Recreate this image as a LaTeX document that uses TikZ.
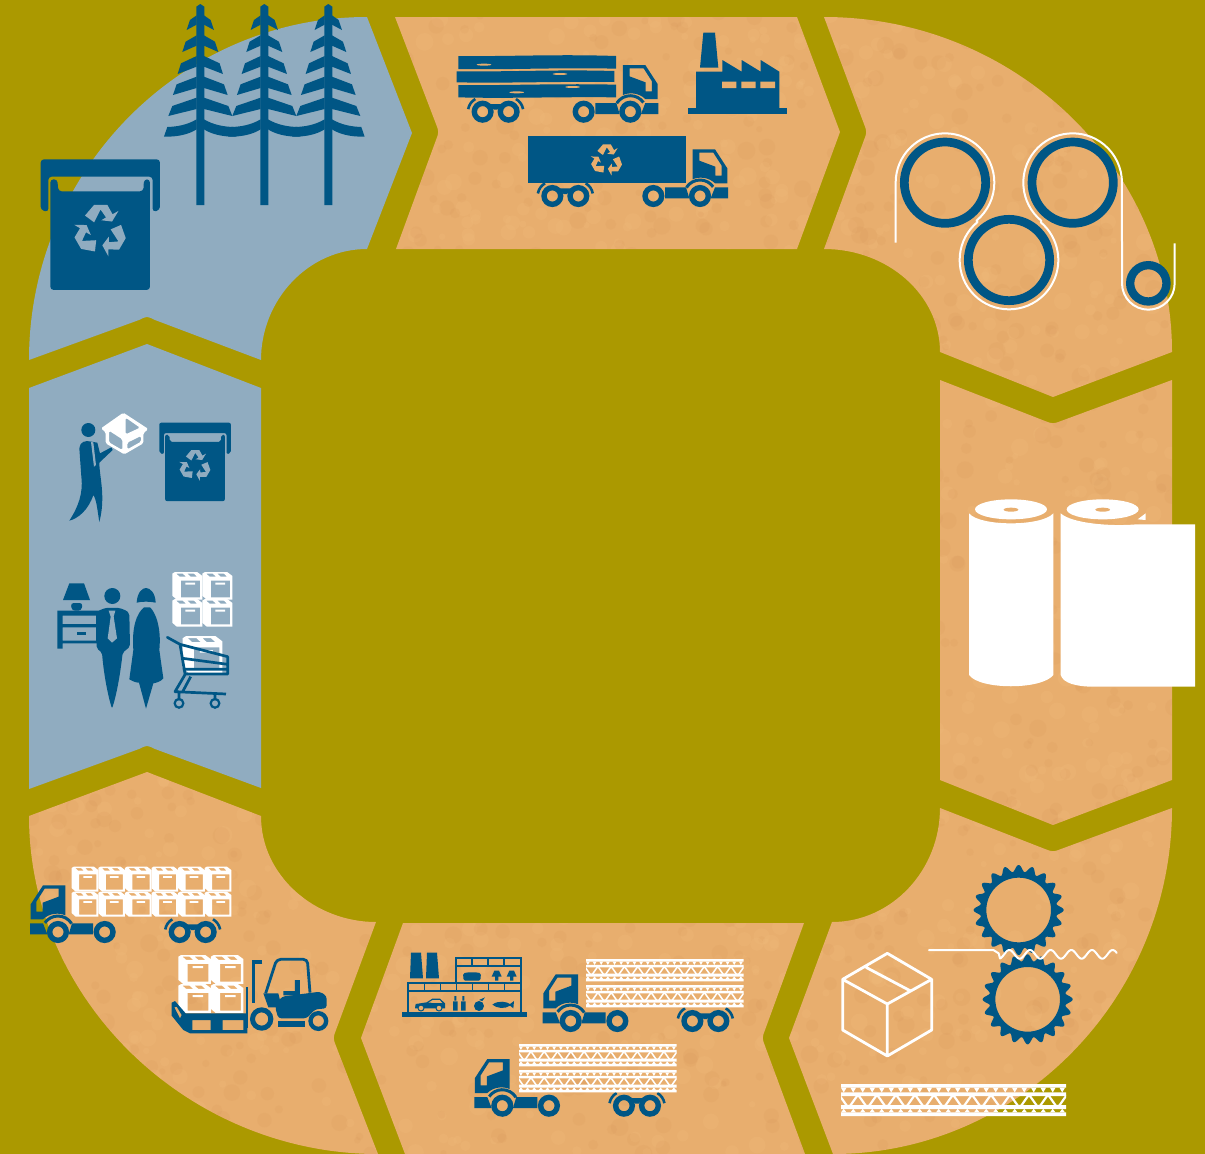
\documentclass[tikz,border=0pt]{standalone}
\definecolor{oliv}{RGB}{171,153,0}
\definecolor{blueD}{RGB}{0,86,133}
\definecolor{blueS}{RGB}{144,172,192}
\definecolor{kraft}{RGB}{232,174,110}
\definecolor{kraftD}{RGB}{212,146,86}
\definecolor{kraftL}{RGB}{248,200,136}
\newcommand\segTopMid{(395,17) -- (797,17) -- (840,132) -- (797,249) -- (396,249) -- (436,140) .. controls (439,132) .. (436,124) -- cycle}
\newcommand\segTopRight{(824,17) .. controls (1015,17) and (1172,168) .. (1172,352) -- (1053,397) -- (940,352) .. controls (940,295) and (888,249) .. (824,249) -- (864,140) .. controls (867,132) .. (864,124) -- cycle}
\newcommand\segMidRight{(940,380) -- (1045,421) .. controls (1053,424) .. (1061,421) -- (1172,380) -- (1172,780) -- (1053,825) -- (940,780) -- cycle}
\newcommand\segBotRight{(940,808) -- (1045,849) .. controls (1053,852) .. (1061,849) -- (1172,808) .. controls (1172,998) and (1019,1154) .. (833,1154) -- (789,1038) -- (832,922) .. controls (892,922) and (940,870) .. (940,808) -- cycle}
\newcommand\segBotMid{(403,923) -- (804,923) -- (765,1030) .. controls (762,1038) .. (765,1046) -- (805,1154) -- (405,1154) -- (361,1038) -- cycle}
\newcommand\segBotLeft{(147,772) -- (261,816) .. controls (261,876) and (315,922) .. (376,922) -- (336,1030) .. controls (333,1038) .. (336,1046) -- (378,1154) .. controls (190,1154) and (29,1002) .. (29,816) -- cycle}
\newcommand\recycle[4]{\begin{scope}[shift={(#1,#2)},scale=#3]\foreach \a in {0,120,240}{\fill[#4,rotate=\a] (-.59,-.58) -- (-.24,-.99) -- (.27,-.99) -- (.47,-.63) -- (.7,-.76) -- (.45,-.35) -- (.04,-.4) -- (.22,-.51) -- (.01,-.81) -- (-.24,-.32) -- cycle;}\end{scope}}
\newcommand\wheelring[2]{\draw[blueD,line width=5.4pt] (#1,#2) circle[radius=25];}
% truck: #1,#2 front wheel centre, #3 = 1 faces right, -1 faces left
\newcommand\truck[3]{\begin{scope}[shift={(#1,#2)},xscale=#3/3,yscale=1/3,shift={(-780,-528)}]
\fill[blueD,even odd rule] (758,388) -- (825,388) -- (862,445) -- (862,490) -- (825,490) .. controls (805,470) and (775,470) .. (758,478) -- cycle (778,398) -- (820,398) -- (845,437) -- (845,467) -- (826,467) -- (826,440) -- (778,422) -- cycle;
\draw[blueD,line width=3pt] (780,528) ++(212:48) arc[start angle=212,end angle=325,radius=48];
\fill[blueD] (675,502) -- (738,502) -- (748,535) -- (675,535) -- cycle (825,502) -- (864,502) -- (864,535) -- (812,535) -- cycle;
\wheelring{780}{528}\wheelring{640}{528}\wheelring{415}{528}\wheelring{337}{528}
\draw[blueD,line width=2.6pt] (337,528) ++(190:44) arc[start angle=190,end angle=240,radius=44];
\draw[blueD,line width=2.6pt] (415,528) ++(300:44) arc[start angle=300,end angle=350,radius=44];
\fill[blueD] (356,505) -- (396,505) -- (381,522) -- (371,522) -- cycle;
\end{scope}}
\newcommand\wbox[4]{\begin{scope}[shift={(#1,#2)},xscale=#3,yscale=#4]
\fill[white,even odd rule] (0,5) -- (8,0) -- (76,0) -- (92,12) -- (92,84) -- (14,84) -- (0,72) -- cycle (26,26) -- (85,26) -- (85,77) -- (26,77) -- cycle (12,5) -- (32,5) -- (42,14) -- (22,14) -- cycle (46,5) -- (66,5) -- (76,14) -- (56,14) -- cycle (40,32) -- (70,32) -- (70,38) -- (40,38) -- cycle;
\end{scope}}
\newcommand\corr[3]{\begin{scope}[shift={(#1,#2)},scale=#3]
\begin{scope}
\clip (0,0) rectangle (225,32);
\fill[white] (0,0) rectangle (225,3.7) (0,8.3) rectangle (225,12) (0,21) rectangle (225,25) (0,28.3) rectangle (225,32);
\foreach \i in {0,...,12}{\draw[white,line width=#3*2.2pt,line join=round] (\i*19-1,12) -- (\i*19+6,22) -- (\i*19+9,22) -- (\i*19+16,12) -- (\i*19+18,12);}
\foreach \i in {0,...,24}{\fill[white] (\i*9.5,3.7) -- (\i*9.5+5.5,3.7) -- (\i*9.5+2.7,8.5) -- cycle (\i*9.5,28.4) -- (\i*9.5+5.5,28.4) -- (\i*9.5+2.7,24.8) -- cycle;}
\end{scope}\end{scope}}
\newcommand\tier[6]{% branch pair: tip lower x,y; tip upper x,y; trunk upper y, trunk lower y
\foreach \sx in {1,-1}{\begin{scope}[xscale=\sx]
\fill[blueD] (#1,#2) .. controls ({(#1-11)/2},{(#2+#6)/2+2}) .. (-11,#6) -- (-11,#5) .. controls ({(#3-11)/2},{(#4+#5)/2+2}) .. (#3,#4) -- cycle;
\end{scope}}}
\newcommand\tree[1]{\begin{scope}[shift={(#1,0)},scale=1/3]
\fill[blueD] (-12,615) -- (-12,20) -- (0,12) -- (12,20) -- (12,615) -- cycle;
\tier{-41}{90}{-31}{60}{46}{74}
\tier{-54}{156}{-44}{125}{106}{137}
\tier{-68}{222}{-58}{190}{168}{200}
\tier{-82}{285}{-71}{253}{230}{264}
\tier{-96}{348}{-84}{318}{293}{327}
\foreach \sx in {1,-1}{\begin{scope}[xscale=\sx]
\fill[blueD] (-109,410) .. controls (-60,411) and (-30,400) .. (-11,388) -- (-11,358) .. controls (-40,375) and (-70,380) .. (-99,381) -- cycle;
\end{scope}}
\end{scope}}
\newcommand\bin[3]{\begin{scope}[shift={(#1,#2)},scale=#3]
\fill[blueD,rounded corners=#3*10pt] (62,478) -- (420,478) -- (420,630) -- (398,636) -- (398,530) -- (85,530) -- (85,636) -- (62,630) -- cycle;
\fill[blueD,rounded corners=#3*10pt] (91,870) -- (91,538) -- (112,538) -- (115,574) -- (370,574) -- (372,538) -- (390,538) -- (390,870) -- cycle;
\recycle{241}{692}{78}{blueS}
\end{scope}}
\newcommand\gear[2]{\fill[blueD,even odd rule] plot[domain=0:360,samples=361,variable=\t] ({#1+(125+10*cos(20*\t))*cos(\t)},{#2+(125+10*cos(20*\t))*sin(\t)}) -- cycle (#1,#2) circle[radius=97];}
\begin{document}
\begin{tikzpicture}[x=1pt,y=1pt,yscale=-1]
\useasboundingbox (0,0) rectangle (1205,1154);
\fill[oliv] (0,0) rectangle (1205,1154);
% kraft segments with mottled texture
\begin{scope}
\clip \segTopMid \segTopRight \segMidRight \segBotRight \segBotMid \segBotLeft;
\fill[kraft] (0,0) rectangle (1205,1154);
\pgfmathsetseed{11}
\begin{scope}[fill opacity=.13]
\foreach \i in {1,...,3000}{
\pgfmathsetmacro\px{rnd*1205}\pgfmathsetmacro\py{rnd*1154}\pgfmathsetmacro\pr{3+rnd*6}
\ifodd\i \fill[kraftD] (\px,\py) circle[radius=\pr];
\else \fill[kraftL] (\px,\py) circle[radius=\pr];\fi}
\end{scope}
\end{scope}
% blue segments
\fill[blueS] (367,17) -- (412,133) -- (367,249) .. controls (308,249) and (261,300) .. (261,360) -- (155,320) .. controls (147,316) .. (139,320) -- (29,360) .. controls (29,171) and (181,17) .. (367,17) -- cycle;
\fill[blueS] (147,344) -- (261,388) -- (261,788) -- (155,749) .. controls (147,745) .. (139,749) -- (29,789) -- (29,388) -- cycle;
% trees and bin top left
\tree{200.3}\tree{264.3}\tree{328.3}
\bin{20}{0}{.3333}
% top middle
\begin{scope}[shift={(440,20)},scale=1/3]
\fill[blueD] (55,108) .. controls (200,110) and (350,102) .. (528,108) -- (528,146) .. controls (350,142) and (200,150) .. (55,147) -- cycle;
\fill[blueD] (50,154) .. controls (200,156) and (350,148) .. (523,153) -- (523,186) .. controls (350,184) and (200,190) .. (50,187) -- cycle;
\fill[blueD] (55,195) .. controls (200,197) and (350,190) .. (528,194) -- (528,232) .. controls (350,230) and (200,236) .. (55,232) -- cycle;
\fill[kraft] (132,134) ellipse[x radius=22,y radius=3] (360,162) ellipse[x radius=22,y radius=3] (230,217) ellipse[x radius=22,y radius=3] (398,201) ellipse[x radius=22,y radius=3];
\fill[blueD] (745,263) rectangle (1040,282);
\fill[blueD] (768,265) -- (768,155) -- (847,155) -- (847,120) -- (905,155) -- (905,120) -- (962,155) -- (962,120) -- (1018,155) -- (1018,265) -- cycle;
\fill[blueD] (790,38) -- (825,38) -- (835,143) -- (780,143) -- cycle;
\fill[kraft] (846,185) rectangle (889,204) (904,185) rectangle (947,204) (961,185) rectangle (1005,204);
\fill[blueD] (263,348) rectangle (737,490);
\recycle{500}{420}{47}{kraft}
\end{scope}
\truck{630.3}{111.7}{1}
\truck{700}{196}{1}
% rollers and web
\begin{scope}[shift={(880,120)},scale=1/3]
\draw[blueD,line width=8.7pt] (195,188) circle[radius=122] (578,188) circle[radius=122] (387,420) circle[radius=122];
\draw[blueD,line width=8.3pt] (805,490) circle[radius=54.5];
\draw[white,line width=2pt,line join=round] (47,368) -- (47,188) arc[start angle=180,end angle=410.4,radius=148] -- (292.6,306) arc[start angle=230.4,end angle=-49.6,radius=148] -- (483.8,302.2) arc[start angle=129.5,end angle=360,radius=148] -- (726,490) arc[start angle=180,end angle=0,radius=79] -- (884,370);
\end{scope}
% paper rolls
\begin{scope}[shift={(950,480)},scale=1/3]
\fill[white] (183,88) ellipse[x radius=108,y radius=30] (458,88) ellipse[x radius=108,y radius=30];
\fill[kraft] (183,89) ellipse[x radius=22,y radius=6] (458,89) ellipse[x radius=22,y radius=6];
\fill[white] (57,100) .. controls (90,140) and (275,140) .. (310,100) -- (310,585) .. controls (275,630) and (90,630) .. (57,585) -- cycle;
\fill[white] (332,100) .. controls (365,130) and (480,140) .. (560,133) -- (735,133) -- (735,620) -- (430,620) .. controls (380,620) and (340,610) .. (332,585) -- cycle;
\fill[white] (563,118) -- (587,100) -- (587,120) -- cycle;
\end{scope}
% corrugating, box, board
\begin{scope}[shift={(830,860)},scale=1/3]
\gear{566}{150}\gear{593}{418}
\draw[white,line width=2pt,line join=round,line cap=round] (297,270) -- (490,270) -- (506,280) -- plot[domain=510:860,samples=150,variable=\t] (\t,{283-13*cos((\t-600)/62*360)});
\draw[white,line width=2.8pt,line join=round] (172,280) -- (305,358) -- (305,510) -- (172,588) -- (38,510) -- (38,358) -- cycle (38,358) -- (172,432) -- (305,358) (172,432) -- (172,588) (108,322) -- (240,392);
\end{scope}
\corr{841}{1084}{1}
% bottom middle
\begin{scope}[shift={(395,940)},scale=1/3]
\fill[blueD] (22,215) rectangle (395,230);
\fill[blueD] (48,38) -- (78,38) -- (84,115) -- (45,115) -- cycle (96,38) -- (126,38) -- (132,115) -- (93,115) -- cycle;
\draw[blueD,line width=2.2pt] (40,220) -- (40,128) -- (183,128) -- (183,53) -- (377,53) -- (377,220);
\draw[blueD,line width=2.2pt] (40,152) -- (377,152) (183,128) -- (377,128) (183,77) -- (377,77);
\foreach \v in {88,136,184,232,280,328}{\draw[blueD,line width=1.5pt] (\v,128) -- (\v,152);}
\foreach \v in {231,279,327}{\draw[blueD,line width=1.5pt] (\v,53) -- (\v,77);}
\fill[blueD] (60,205) -- (62,192) -- (95,187) -- (112,176) -- (135,176) -- (150,190) -- (150,205) -- cycle;
\fill[kraft] (100,188) -- (113,180) -- (134,180) -- (142,189) -- cycle;
\draw[blueD,fill=kraft,line width=1pt] (78,204) circle[radius=9] (132,204) circle[radius=9];
\fill[blueD] (178,168) rectangle (184,182) (202,168) rectangle (208,182) (174,212) rectangle (188,184) (198,212) rectangle (212,184);
\fill[blueD] (252,198) circle[radius=15] (252,180) -- (270,172) -- (262,183) -- cycle;
\fill[blueD] (292,194) .. controls (310,180) and (335,185) .. (345,192) -- (357,183) -- (355,205) -- (345,197) .. controls (330,208) and (305,205) .. (292,194) -- cycle;
\fill[blueD,rounded corners=1.5pt] (204,100) -- (218,97) -- (245,97) -- (258,100) -- (256,122) -- (206,122) -- cycle;
\fill[blueD] (298,92) -- (312,92) -- (320,110) -- (290,110) -- cycle (300,110) rectangle (310,122) (343,92) -- (357,92) -- (365,110) -- (335,110) -- cycle (345,110) rectangle (355,122);
\end{scope}
\truck{570.7}{1021}{-1}
\truck{502.3}{1105.7}{-1}
\corr{586}{959}{.7}
\corr{586}{985}{.7}
\corr{519}{1044}{.7}
\corr{519}{1070}{.7}
% bottom left
\truck{58}{932}{-1}
\foreach \c in {0,...,5}{\foreach \r in {0,1}{\wbox{71.7+\c*26.6}{866.5+\r*25}{.29}{.3}}}
\foreach \c in {0,1}{\foreach \r in {0,1}{\wbox{178.3+\c*32.5}{955+\r*29}{.355}{.345}}}
\begin{scope}[shift={(20,850)},scale=1/3]
\fill[blueD,even odd rule] (455,458) -- (465,453) -- (497,490) -- (682,490) -- (682,550) -- (510,550) -- (490,540) -- (455,497) -- cycle (517,510) rectangle (572,540) (608,510) rectangle (670,540) (463,472) -- (470,470) -- (485,495) -- (480,505) -- cycle;
\fill[blueD] (678,410) rectangle (685,535);
\draw[blueD,line width=3.5pt] (727,336) -- (700,336) -- (700,460);
\draw[blueD,line width=2.8pt,line join=round,rounded corners=4pt] (737,430) -- (770,328) -- (862,328) -- (870,428);
\fill[blueD] (730,430) -- (775,430) -- (785,472) -- (745,472) -- cycle;
\fill[blueD,rounded corners=3pt] (785,440) -- (900,425) -- (920,438) -- (920,475) -- (885,478) -- (860,505) -- (775,505) -- (765,470) -- cycle;
\fill[blueD] (790,423) -- (825,423) -- (825,390) -- (840,390) -- (840,436) -- (790,436) -- cycle;
\fill[blueD] (775,513) rectangle (855,530);
\draw[blueD,line width=5pt] (725,507) circle[radius=27.5];
\draw[blueD,line width=4.3pt] (895,513) circle[radius=23.5];
\end{scope}
% left middle: consumers and recycling
\bin{146.9}{327.1}{.2}
\wbox{172.3}{572}{.327}{.33}\wbox{202.3}{572}{.327}{.33}\wbox{172.3}{599}{.327}{.33}\wbox{202.3}{599}{.327}{.33}
\wbox{182.7}{636}{.43}{.44}
\begin{scope}[shift={(40,400)},scale=1/3]
% man with box
\fill[blueD] (145,90) circle[radius=21];
\fill[blueD] (118,145) .. controls (120,125) and (135,120) .. (155,125) -- (172,128) -- (180,160) -- (214,142) -- (218,150) -- (178,188) .. controls (178,230) and (198,290) .. (178,366) .. controls (172,330) and (170,300) .. (160,285) .. controls (145,330) and (115,355) .. (88,362) .. controls (115,320) and (130,280) .. (124,230) -- cycle;
\fill[blueS] (153,126) -- (160,127) -- (168,195) -- (162,200) -- cycle;
\fill[white,even odd rule,rounded corners=1.5pt] (250,38) -- (325,87) -- (310,100) -- (310,130) -- (253,163) -- (197,130) -- (197,97) -- (183,85) -- cycle (207,92) -- (247,118) -- (247,150) -- (207,127) -- cycle (257,53) -- (300,83) -- (257,103) -- cycle (262,128) -- (303,108) -- (303,125) -- (262,148) -- cycle;
% nightstand and lamp
\fill[blueD,even odd rule] (52,632) -- (185,632) -- (185,730) -- (68,730) -- (68,746) -- (52,746) -- cycle (68,647) rectangle (168,672) (68,682) rectangle (168,722);
\fill[blueD] (110,697) rectangle (138,705);
\fill[blueD] (88,550) -- (132,550) -- (150,600) -- (69,600) -- cycle;
\fill[blueD,rounded corners=3pt] (92,609) -- (128,609) -- (124,632) -- (96,632) -- cycle;
% couple
\fill[blueD] (217,588) circle[radius=24];
\fill[blueD,rounded corners=2pt] (168,640) .. controls (180,628) and (200,622) .. (217,624) .. controls (235,622) and (255,628) .. (268,640) -- (270,740) -- (248,758) .. controls (240,830) and (228,890) .. (216,926) .. controls (205,890) and (192,830) .. (186,758) -- (170,745) -- cycle;
\fill[blueS] (206,632) -- (226,632) -- (221,650) -- (231,715) -- (216,728) -- (203,715) -- (212,650) -- cycle;
\fill[blueD] (290,608) .. controls (292,575) and (308,564) .. (318,564) .. controls (330,564) and (346,578) .. (347,608) .. controls (330,604) and (305,604) .. (290,608) -- cycle;
\fill[blueD] (312,622) .. controls (290,640) and (275,680) .. (280,750) -- (268,838) .. controls (280,845) and (290,848) .. (297,848) -- (318,926) -- (340,850) .. controls (350,848) and (362,845) .. (370,835) -- (358,750) .. controls (365,680) and (345,635) .. (330,622) -- cycle;
% trolley
\draw[blueD,line width=2.7pt,line join=round,line cap=round] (382,712) -- (420,733) -- (563,770) -- (563,822) -- (435,822) -- (420,733) (428,775) -- (563,793) (432,808) -- (563,808);
\draw[blueD,line width=2.7pt,line join=round] (435,824) -- (405,875) -- (558,882) (452,830) -- (428,875) (417,878) -- (417,900) (525,880) -- (525,900);
\draw[blueD,line width=2.2pt] (417,910) circle[radius=13] (525,910) circle[radius=13];
\end{scope}
\end{tikzpicture}
\end{document}
